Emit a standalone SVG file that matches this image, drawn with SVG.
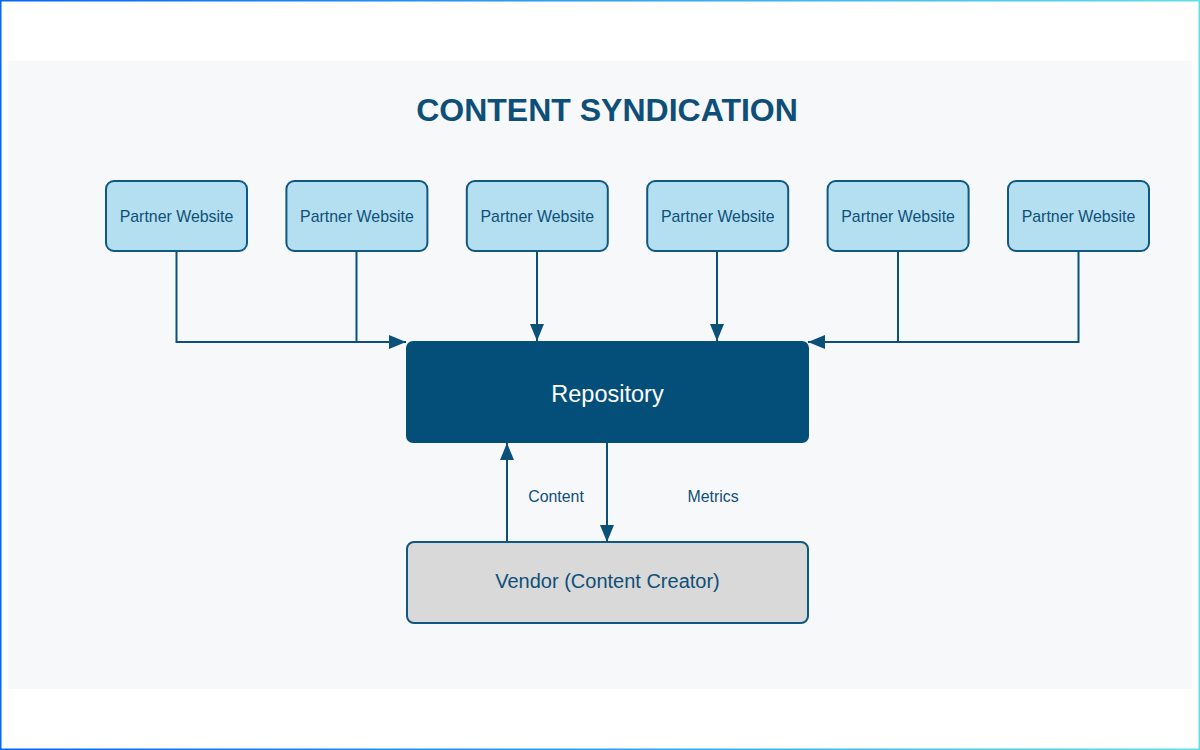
<svg xmlns="http://www.w3.org/2000/svg" width="1200" height="750" viewBox="0 0 1200 750">
<defs>
<linearGradient id="bord" x1="0" y1="0" x2="1" y2="0">
<stop offset="0" stop-color="#0066ff"/>
<stop offset="1" stop-color="#5ce1e6"/>
</linearGradient>
<marker id="arr" viewBox="0 0 17 14" refX="17" refY="7" markerWidth="17" markerHeight="14" markerUnits="userSpaceOnUse" orient="auto">
<path d="M0,0 L17,7 L0,14 z" fill="#0b5079"/>
</marker>
<style>
.partner rect{fill:#b3dff0;stroke:#0f5882;stroke-width:2}
.partner text{font-family:"Liberation Sans",Arial,sans-serif;font-size:15.9px;fill:#0f4f78;text-anchor:middle}
.conn path{fill:none;stroke:#0b5079;stroke-width:2;marker-end:url(#arr)}
.conn path.plain{marker-end:none}
.lbl{font-family:"Liberation Sans",Arial,sans-serif;font-size:15.9px;fill:#0f4f78;text-anchor:middle}
</style>
</defs>
<rect x="0" y="0" width="1200" height="750" fill="#ffffff"/>
<rect x="0.75" y="0.75" width="1198.5" height="748.5" fill="none" stroke="url(#bord)" stroke-width="1.5"/>
<rect x="8" y="61" width="1184" height="628" fill="#f7f8fa"/>
<text x="607" y="121" text-anchor="middle" font-family="'Liberation Sans',Arial,sans-serif" font-size="32" font-weight="bold" fill="#0d4f79">CONTENT SYNDICATION</text>

<g id="connectors" class="conn">
<path d="M176.5,252 V342 H406"/>
<path class="plain" d="M356.5,252 V342"/>
<path d="M537,252 V341"/>
<path d="M717,252 V341"/>
<path class="plain" d="M898,252 V342"/>
<path d="M1078.5,252 V342 H808"/>
<path d="M507,542 V443"/>
<path d="M607,443 V542"/>
</g>

<g id="partner1" class="partner"><rect x="106" y="181" width="141" height="70" rx="8"/><text x="176.5" y="221.5">Partner Website</text></g>
<g id="partner2" class="partner"><rect x="286.4" y="181" width="141" height="70" rx="8"/><text x="356.9" y="221.5">Partner Website</text></g>
<g id="partner3" class="partner"><rect x="466.8" y="181" width="141" height="70" rx="8"/><text x="537.3" y="221.5">Partner Website</text></g>
<g id="partner4" class="partner"><rect x="647.2" y="181" width="141" height="70" rx="8"/><text x="717.7" y="221.5">Partner Website</text></g>
<g id="partner5" class="partner"><rect x="827.6" y="181" width="141" height="70" rx="8"/><text x="898.1" y="221.5">Partner Website</text></g>
<g id="partner6" class="partner"><rect x="1008" y="181" width="141" height="70" rx="8"/><text x="1078.5" y="221.5">Partner Website</text></g>

<g id="repository"><rect x="406" y="341" width="403" height="102" rx="7" fill="#034f79"/><text x="607.5" y="402" text-anchor="middle" font-family="'Liberation Sans',Arial,sans-serif" font-size="23.5" fill="#ffffff">Repository</text></g>

<g id="vendor"><rect x="407" y="542" width="401" height="81" rx="7" fill="#d9d9d9" stroke="#0f5882" stroke-width="2"/><text x="607.5" y="588" text-anchor="middle" font-family="'Liberation Sans',Arial,sans-serif" font-size="20" fill="#0f4f78">Vendor (Content Creator)</text></g>

<text class="lbl" x="556" y="502">Content</text>
<text class="lbl" x="713" y="502">Metrics</text>
</svg>
